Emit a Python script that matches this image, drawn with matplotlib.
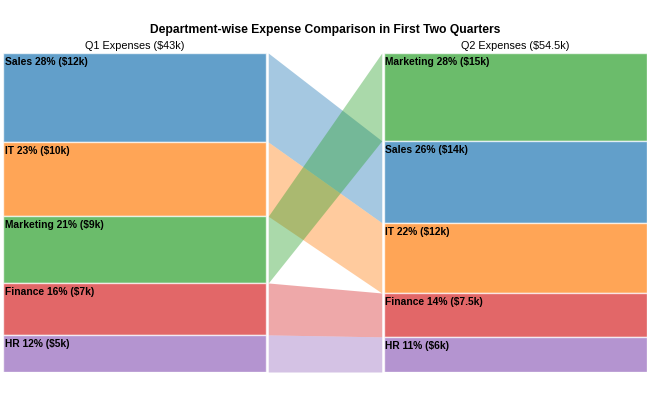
import numpy as np
import matplotlib
matplotlib.use("Agg")
from matplotlib import pyplot as plt

plt.rcParams['font.family'] = ['Liberation Sans', 'DejaVu Sans']

# expenses in $k
q1_depts = ['Sales', 'IT', 'Marketing', 'Finance', 'HR']
q1_values = [12, 10, 9, 7, 5]
q2_depts = ['Marketing', 'Sales', 'IT', 'Finance', 'HR']
q2_values = [15, 14, 12, 7.5, 6]
dept_colors = {'Sales': '#1f77b4', 'IT': '#ff7f0e', 'Marketing': '#2ca02c',
               'Finance': '#d62728', 'HR': '#9467bd'}


def fmt_k(v):
    return f"{v:g}k"


def stack(depts, values):
    # top-down stacking, heights in percent of the total
    total = sum(values)
    pct = np.array(values) / total * 100
    tops = 100 - np.concatenate([[0], np.cumsum(pct)[:-1]])
    return {d: (t, p) for d, t, p in zip(depts, tops, pct)}, total


q1_stack, q1_total = stack(q1_depts, q1_values)
q2_stack, q2_total = stack(q2_depts, q2_values)

fig = plt.figure(figsize=(6.5, 3.93), dpi=100)
ax = fig.add_axes([3 / 650, 21 / 393, 644 / 650, 319 / 393])

x_left, w_bar, x_right = 0.0, 1.0, 1.445
gap = 0.007

for depts, values, st, x0 in [(q1_depts, q1_values, q1_stack, x_left),
                              (q2_depts, q2_values, q2_stack, x_right)]:
    total = sum(values)
    for d, v in zip(depts, values):
        top, h = st[d]
        ax.bar(x0, h, width=w_bar, bottom=top - h, align='edge',
               color=dept_colors[d], alpha=0.7, edgecolor='white', linewidth=1)
        ax.text(x0 + 0.007, top - 1.3, f"{d} {v / total * 100:.0f}% (${fmt_k(v)})",
                ha='left', va='top', fontsize=7.4, fontweight='bold')

# connecting bands
bx0, bx1 = w_bar + gap, x_right - gap
for d in q1_depts:
    t1, h1 = q1_stack[d]
    t2, h2 = q2_stack[d]
    xs = [bx0, bx1]
    ax.fill_between(xs, [t1 - h1, t2 - h2], [t1, t2], color=dept_colors[d],
                    alpha=0.4, linewidth=0)

ax.text(x_left + w_bar / 2, 100.6, f"Q1 Expenses (${q1_total:g}k)", ha='center',
        va='bottom', fontsize=7.8)
ax.text(x_right + w_bar / 2, 100.6, f"Q2 Expenses (${q2_total:g}k)", ha='center',
        va='bottom', fontsize=7.8)
fig.text(0.5, 1 - 30 / 393, 'Department-wise Expense Comparison in First Two Quarters',
         ha='center', va='center', fontsize=8.7, fontweight='bold')

ax.set_xlim(x_left, x_right + w_bar)
ax.set_ylim(0, 100)
ax.axis('off')

fig.savefig('out.png', dpi=100)
